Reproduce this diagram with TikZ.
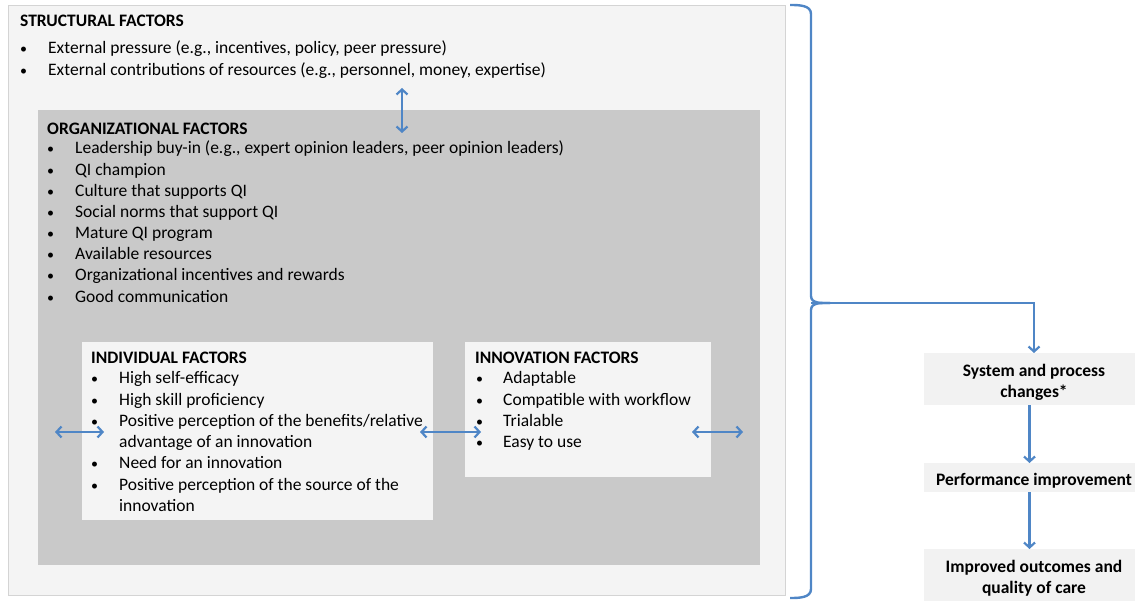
\documentclass[tikz,border=0pt]{standalone}
\usepackage{fontspec}
\setmainfont{Carlito}
\usetikzlibrary{arrows.meta}
\definecolor{outerfill}{HTML}{F4F4F4}
\definecolor{outerline}{HTML}{D4D4D4}
\definecolor{orgfill}{HTML}{C9C9C9}
\definecolor{boxfill}{HTML}{F4F4F4}
\definecolor{rbox}{HTML}{F2F2F2}
\definecolor{arrowblue}{HTML}{4F86C6}
\newcommand{\fsz}{\fontsize{17.5}{21}\selectfont}
\tikzset{
  panel/.style={anchor=north west, inner sep=0pt, outer sep=0pt},
  txt/.style={anchor=base west, inner sep=0pt, font=\fsz},
  bul/.style={anchor=base west, inner sep=0pt, font=\fontsize{14}{21}\selectfont},
  head/.style={txt, font=\fsz\bfseries},
  rtxt/.style={anchor=base, inner sep=0pt, font=\fsz\bfseries},
  conn/.style={draw=arrowblue, line width=2.6pt},
  dbl/.style={conn, {Straight Barb[length=5pt,width=11pt,line width=2.2pt]}-{Straight Barb[length=5pt,width=11pt,line width=2.2pt]}},
  sgl/.style={conn, -{Straight Barb[length=5pt,width=11pt,line width=2.2pt]}},
}
\begin{document}
\begin{tikzpicture}[x=1pt,y=-1pt]
\useasboundingbox (0,0) rectangle (1135,601);
% panels
\node[panel, fill=outerfill, draw=outerline, line width=0.8pt, minimum width=777pt, minimum height=590pt] (structural) at (8,5) {};
\node[panel, fill=orgfill, minimum width=722pt, minimum height=455pt] (org) at (38,110) {};
\node[panel, fill=boxfill, minimum width=351pt, minimum height=178pt] (indiv) at (82,342) {};
\node[panel, fill=boxfill, minimum width=246pt, minimum height=135pt] (innov) at (465,342) {};
\node[panel, fill=rbox, minimum width=211pt, minimum height=52pt] (sys) at (924,353) {};
\node[panel, fill=rbox, minimum width=211pt, minimum height=29pt] (perf) at (924,463) {};
\node[panel, fill=rbox, minimum width=211pt, minimum height=52pt] (outc) at (924,549) {};

% structural text
\node[head] (sh) at (20,27) {STRUCTURAL FACTORS};
\foreach \t [count=\i] in {{External pressure (e.g., incentives, policy, peer pressure)},{External contributions of resources (e.g., personnel, money, expertise)}}{
  \node[bul] (sb\i) at (20,{54+(\i-1)*22}) {\textbullet};
  \node[txt] (st\i) at (48,{54+(\i-1)*22}) {\t};
}
% organizational text
\node[head] (oh) at (47,135) {ORGANIZATIONAL FACTORS};
\foreach \t [count=\i] in {{Leadership buy-in (e.g., expert opinion leaders, peer opinion leaders)},{QI champion},{Culture that supports QI},{Social norms that support QI},{Mature QI program},{Available resources},{Organizational incentives and rewards},{Good communication}}{
  \node[bul] (ob\i) at (47,{154+(\i-1)*21.15}) {\textbullet};
  \node[txt] (ot\i) at (75,{154+(\i-1)*21.15}) {\t};
}
% individual text
\node[head] (ih) at (91,364) {INDIVIDUAL FACTORS};
\foreach \t/\b [count=\i] in {{High self-efficacy}/1,{High skill proficiency}/1,{Positive perception of the benefits/relative}/1,{advantage of an innovation}/0,{Need for an innovation}/1,{Positive perception of the source of the}/1,{innovation}/0}{
  \ifnum\b=1 \node[bul] (ib\i) at (91,{384+(\i-1)*21.2}) {\textbullet};\fi
  \node[txt] (it\i) at (119,{384+(\i-1)*21.2}) {\t};
}
% innovation text
\node[head] (nh) at (475,364) {INNOVATION FACTORS};
\foreach \t [count=\i] in {{Adaptable},{Compatible with workflow},{Trialable},{Easy to use}}{
  \node[bul] (nb\i) at (476,{384+(\i-1)*21.2}) {\textbullet};
  \node[txt] (nt\i) at (503,{384+(\i-1)*21.2}) {\t};
}
% right column text
\node[rtxt] (sys1) at (1034,377) {System and process};
\node[rtxt] (sys2) at (1034,397) {changes*};
\node[rtxt] (perf1) at (1034,485) {Performance improvement};
\node[rtxt] (outc1) at (1034,572) {Improved outcomes and};
\node[rtxt] (outc2) at (1034,593) {quality of care};

% connector end points
\coordinate (v1) at (402,88);
\coordinate (v2) at (402,133);
\coordinate (h1a) at (55,432);
\coordinate (h1b) at (104,432);
\coordinate (h2a) at (420,432);
\coordinate (h2b) at (481,432);
\coordinate (h3a) at (692,432);
\coordinate (h3b) at (743,432);
\draw[dbl] (v1) -- (v2);
\draw[dbl] (h1a) -- (h1b);
\draw[dbl] (h2a) -- (h2b);
\draw[dbl] (h3a) -- (h3b);

% brace
\coordinate (btop) at (790,5);
\coordinate (bbot) at (790,598);
\coordinate (btip) at (830,303);
\draw[conn, line width=2.4pt] (btop) to[out=0,in=90] (811,14) -- (811,296) to[out=-90,in=180] (btip);
\draw[conn, line width=2.4pt] (btip) to[out=180,in=90] (811,310) -- (811,589) to[out=-90,in=0] (bbot);
\coordinate (bend) at (1034,303);
\draw[sgl] (811,303) -- (bend) -- (sys.north -| bend);
\draw[sgl] (sys.south) -- (perf.north);
\draw[sgl] (perf.south) -- (outc.north);
\end{tikzpicture}
\end{document}
